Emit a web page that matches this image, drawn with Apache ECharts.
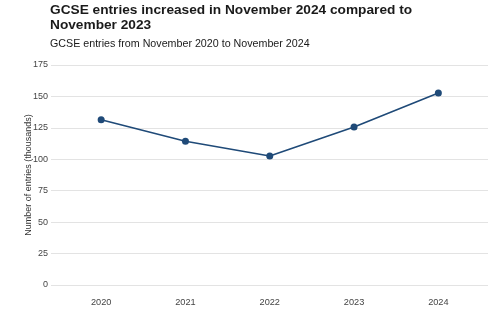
<!DOCTYPE html>
<html><head><meta charset="utf-8">
<script src="https://cdn.jsdelivr.net/npm/echarts@6/dist/echarts.min.js"></script>
<style>html,body{margin:0;padding:0;background:#fff}#c{width:500px;height:324px}</style>
</head><body><div id="c"></div>
<script>
const categories = ['2020', '2021', '2022', '2023', '2024'];
const entries = [131.5, 114.3, 102.6, 125.7, 152.7];
const yTicks = [0, 25, 50, 75, 100, 125, 150, 175];

const chart = echarts.init(document.getElementById('c'), null, {renderer: 'canvas'});
const font = 'Liberation Sans, Arial, sans-serif';
chart.setOption({
  animation: false,
  title: [{
    text: 'GCSE entries increased in November 2024 compared to\nNovember 2023',
    left: 50, top: 3, padding: 0,
    textStyle: {fontFamily: font, fontSize: 13.7, fontWeight: 'bold', color: '#1a1a1a', lineHeight: 15}
  }, {
    text: 'GCSE entries from November 2020 to November 2024',
    left: 50, top: 39, padding: 0,
    textStyle: {fontFamily: font, fontSize: 10.7, fontWeight: 'normal', color: '#1a1a1a'}
  }],
  grid: [
    {left: 51, right: 12, top: 65, bottom: 39, containLabel: false},
    {left: 59, right: 19.5, top: 65, bottom: 39, containLabel: false}
  ],
  xAxis: [
    {gridIndex: 0, type: 'value', show: false, min: 0, max: 1},
    {gridIndex: 1, type: 'category', data: categories, boundaryGap: true,
     axisLine: {show: false}, axisTick: {show: false},
     axisLabel: {fontFamily: font, fontSize: 9.2, color: '#444', margin: 13}}
  ],
  yAxis: [
    {gridIndex: 0, type: 'value', min: yTicks[0], max: yTicks[yTicks.length - 1], interval: 25,
     name: 'Number of entries (thousands)', nameLocation: 'middle', nameGap: 18, nameRotate: 90,
     nameMoveOverlap: false,
     nameTextStyle: {fontFamily: font, fontSize: 9, color: '#333'},
     axisLine: {show: false}, axisTick: {show: false},
     axisLabel: {fontFamily: font, fontSize: 9, color: '#444', margin: 3},
     splitLine: {lineStyle: {color: '#e3e3e3', width: 1}}},
    {gridIndex: 1, type: 'value', min: 0, max: 175, show: false, splitLine: {show: false}}
  ],
  series: [{
    type: 'line', xAxisIndex: 1, yAxisIndex: 1,
    data: entries,
    symbol: 'circle', symbolSize: 7,
    lineStyle: {color: '#1f4a78', width: 1.6},
    itemStyle: {color: '#1f4a78'}
  }]
});
</script></body></html>
